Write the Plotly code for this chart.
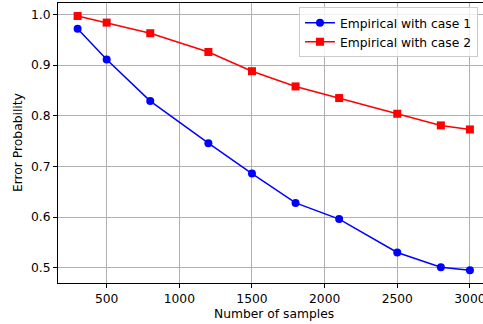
import plotly.graph_objects as go

samples = [300, 500, 800, 1200, 1500, 1800, 2100, 2500, 2800, 3000]
case1 = [0.972, 0.911, 0.829, 0.746, 0.686, 0.628, 0.596, 0.530, 0.501, 0.495]
case2 = [0.997, 0.984, 0.963, 0.926, 0.888, 0.858, 0.835, 0.804, 0.781, 0.773]
x_ticks = [500, 1000, 1500, 2000, 2500, 3000]
y_ticks = [0.5, 0.6, 0.7, 0.8, 0.9, 1.0]

font = dict(family="DejaVu Sans", size=12.3, color="black")

fig = go.Figure()
fig.add_trace(go.Scatter(x=samples, y=case1, mode="lines+markers", name="Empirical with case 1",
                         line=dict(color="blue", width=1.5),
                         marker=dict(symbol="circle", size=8, color="blue")))
fig.add_trace(go.Scatter(x=samples, y=case2, mode="lines+markers", name="Empirical with case 2",
                         line=dict(color="red", width=1.5),
                         marker=dict(symbol="square", size=8, color="red")))

fig.update_layout(
    width=483, height=324,
    margin=dict(l=58, r=0, t=3, b=41),
    paper_bgcolor="white", plot_bgcolor="white",
    font=font,
    showlegend=True,
    legend=dict(x=0.567, xanchor="left", y=0.985, yanchor="top",
                bgcolor="rgba(255,255,255,0.8)", bordercolor="#cccccc", borderwidth=1,
                font=font, tracegroupgap=0, itemwidth=30),
    xaxis=dict(range=[165, 3090], tickvals=x_ticks, ticktext=[str(v) for v in x_ticks],
               showgrid=True, gridcolor="#b0b0b0", gridwidth=0.8,
               showline=True, linecolor="black", linewidth=1, mirror=True,
               ticks="outside", ticklen=4, tickcolor="black", zeroline=False,
               automargin=False, ticklabeloverflow="allow"),
    yaxis=dict(range=[0.4698, 1.0227], tickvals=y_ticks, ticktext=[f"{v:.1f}" for v in y_ticks],
               showgrid=True, gridcolor="#b0b0b0", gridwidth=0.8,
               showline=True, linecolor="black", linewidth=1, mirror=False,
               ticks="outside", ticklen=4, tickcolor="black", zeroline=False,
               automargin=False, ticklabeloverflow="allow"),
    annotations=[
        dict(text="Number of samples", xref="paper", yref="paper", x=0.508, y=-0.111,
             xanchor="center", yanchor="middle", showarrow=False, font=font),
        dict(text="Error Probability", xref="paper", yref="paper", x=-0.094, y=0.5,
             xanchor="center", yanchor="middle", showarrow=False, textangle=-90, font=font),
    ],
)

fig.write_html("out.html", config={"displayModeBar": False},
               post_script="document.body.style.margin='0';document.body.style.padding='0';document.body.style.overflow='hidden';")
